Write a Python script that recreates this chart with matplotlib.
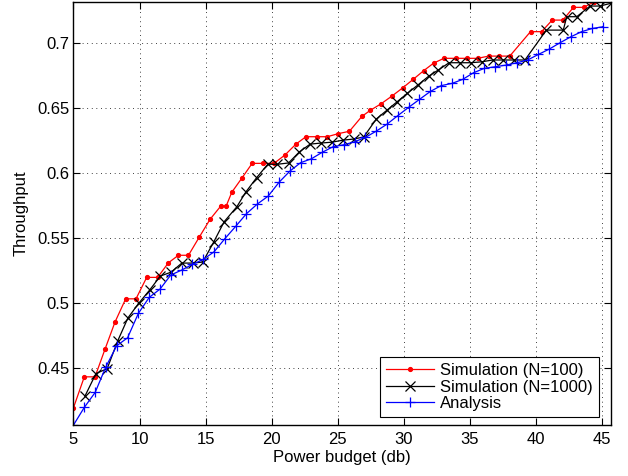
import matplotlib
matplotlib.use('Agg')
import matplotlib.pyplot as plt

plt.rcParams['font.family'] = ['Liberation Sans', 'DejaVu Sans']

# power budget (db) / throughput
sim100_x = [5.00, 5.82, 6.63, 7.38, 8.14, 8.95, 9.73, 10.54, 11.37, 12.18,
            12.94, 13.70, 14.52, 15.33, 16.14, 16.55, 16.98, 17.73, 18.52, 19.36,
            20.17, 21.00, 21.83, 22.59, 23.40, 24.20, 25.02, 25.88, 26.82, 27.46,
            28.27, 29.10, 29.94, 30.70, 31.50, 32.25, 33.03, 33.94, 34.76, 35.57,
            36.42, 37.22, 38.01, 39.58, 40.42, 41.22, 42.03, 42.83, 43.60, 44.38,
            45.20]
sim100_y = [0.4197, 0.4435, 0.4435, 0.4646, 0.4856, 0.5035, 0.5035, 0.5200, 0.5200, 0.5312,
            0.5370, 0.5370, 0.5510, 0.5646, 0.5748, 0.5748, 0.5855, 0.5962, 0.6077, 0.6077,
            0.6077, 0.6141, 0.6225, 0.6282, 0.6282, 0.6282, 0.6305, 0.6324, 0.6438, 0.6485,
            0.6535, 0.6595, 0.6660, 0.6723, 0.6790, 0.6848, 0.6885, 0.6885, 0.6885, 0.6885,
            0.6902, 0.6902, 0.6902, 0.7090, 0.7090, 0.7179, 0.7179, 0.7277, 0.7277, 0.7318,
            0.7345]

sim1000_x = [5.87, 6.70, 7.55, 8.35, 9.12, 9.93, 10.76, 11.57, 12.38, 13.20,
             14.02, 14.78, 15.60, 16.40, 17.36, 18.03, 18.85, 19.70, 20.42, 21.27,
             22.10, 22.91, 23.70, 24.56, 25.42, 26.20, 26.96, 27.92, 28.73, 29.49,
             30.25, 31.05, 31.88, 32.60, 33.42, 34.24, 35.05, 35.88, 36.71, 37.52,
             38.34, 39.16, 40.78, 42.06, 42.32, 43.08, 44.08, 44.84, 45.65]
sim1000_y = [0.4287, 0.4460, 0.4498, 0.4712, 0.4888, 0.5000, 0.5102, 0.5210, 0.5240, 0.5310,
             0.5310, 0.5318, 0.5470, 0.5628, 0.5743, 0.5855, 0.5966, 0.6070, 0.6070, 0.6080,
             0.6166, 0.6225, 0.6233, 0.6240, 0.6256, 0.6264, 0.6280, 0.6419, 0.6487, 0.6551,
             0.6615, 0.6679, 0.6748, 0.6795, 0.6851, 0.6851, 0.6851, 0.6858, 0.6872, 0.6872,
             0.6872, 0.6872, 0.7102, 0.7102, 0.7205, 0.7205, 0.7287, 0.7287, 0.7308]

analysis_x = [5.00, 5.82, 6.64, 7.45, 8.27, 9.09, 9.91, 10.73, 11.55, 12.36,
              13.18, 14.00, 14.82, 15.64, 16.45, 17.27, 18.09, 18.91, 19.73, 20.55,
              21.36, 22.18, 23.00, 23.82, 24.64, 25.45, 26.27, 27.09, 27.91, 28.73,
              29.55, 30.36, 31.18, 32.00, 32.82, 33.64, 34.45, 35.27, 36.09, 36.91,
              37.73, 38.55, 39.36, 40.18, 41.00, 41.82, 42.64, 43.45, 44.27, 45.09]
analysis_y = [0.4064, 0.4200, 0.4315, 0.4512, 0.4674, 0.4735, 0.4923, 0.5046, 0.5110, 0.5218,
              0.5256, 0.5300, 0.5338, 0.5397, 0.5497, 0.5592, 0.5690, 0.5764, 0.5825, 0.5931,
              0.6016, 0.6082, 0.6112, 0.6162, 0.6205, 0.6220, 0.6243, 0.6277, 0.6325, 0.6379,
              0.6445, 0.6508, 0.6569, 0.6630, 0.6675, 0.6692, 0.6723, 0.6774, 0.6808, 0.6820,
              0.6833, 0.6851, 0.6872, 0.6915, 0.6956, 0.7005, 0.7051, 0.7090, 0.7115, 0.7128]

x_ticks = [5, 10, 15, 20, 25, 30, 35, 40, 45]
y_ticks = [0.45, 0.5, 0.55, 0.6, 0.65, 0.7]
y_tick_labels = ['0.45', '0.5', '0.55', '0.6', '0.65', '0.7']

fig = plt.figure(figsize=(6.28, 4.76), dpi=100)
ax = fig.add_axes([0.117, 0.107, 0.8555, 0.8893])

ax.plot(sim100_x, sim100_y, '-', color='red', marker='.', markersize=5.5,
        linewidth=0.9, label='Simulation (N=100)')
ax.plot(sim1000_x, sim1000_y, '-', color='black', marker='x', markersize=7,
        markeredgewidth=0.9, linewidth=0.9, label='Simulation (N=1000)')
ax.plot(analysis_x, analysis_y, '-', color='blue', marker='+', markersize=7,
        markeredgewidth=0.9, linewidth=0.9, label='Analysis')

ax.set_xlim(5, 45.65)
ax.set_ylim(0.4064, 0.732)
ax.set_xticks(x_ticks)
ax.set_yticks(y_ticks)
ax.set_yticklabels(y_tick_labels)
ax.tick_params(direction='in', top=True, right=True, length=5, width=0.8,
               labelsize=12)
ax.tick_params(axis='x', pad=5)
ax.tick_params(axis='y', pad=3)
ax.grid(True, color='black', linestyle=(0, (1, 4.5)), linewidth=0.6)
for s in ax.spines.values():
    s.set_linewidth(1.0)

ax.set_xlabel('Power budget (db)', fontsize=12, labelpad=2)
ax.set_ylabel('Throughput', fontsize=12, labelpad=6)

leg = ax.legend(loc='lower right', bbox_to_anchor=(0.978, 0.019), borderaxespad=0,
                fontsize=12, fancybox=False, framealpha=1, edgecolor='black',
                handlelength=2.9, handletextpad=0.35, labelspacing=0.1,
                borderpad=0.35)
leg.get_frame().set_linewidth(0.8)

fig.savefig('out.png', dpi=100)
